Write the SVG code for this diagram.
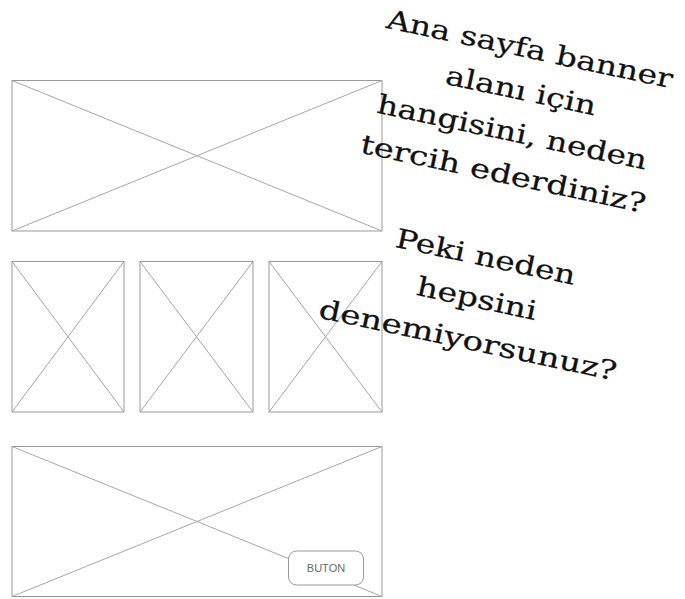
<svg xmlns="http://www.w3.org/2000/svg" width="685" height="599" viewBox="0 0 685 599">
<style>
.ph{fill:#fff;stroke:#999;stroke-width:1}
.x{stroke:#a6a6a6;stroke-width:1;fill:none}
.q{font-family:"DejaVu Serif","Liberation Serif",serif;font-size:26.5px;fill:#111;stroke:#111;stroke-width:0.25;text-anchor:middle}
.btn{fill:#fff;stroke:#999;stroke-width:1}
.bt{font-family:"Liberation Sans",Arial,sans-serif;font-size:11px;fill:#6a6a6a;text-anchor:middle}
</style>
<rect width="685" height="599" fill="#fff"/>
<g id="banner-top">
<rect class="ph" x="12" y="80.5" width="370" height="150.5"/>
<line class="x" x1="12" y1="80.5" x2="382" y2="231"/>
<line class="x" x1="382" y1="80.5" x2="12" y2="231"/>
</g>
<g id="box-1">
<rect class="ph" x="12" y="261.5" width="112" height="150.5"/>
<line class="x" x1="12" y1="261.5" x2="124" y2="412"/>
<line class="x" x1="124" y1="261.5" x2="12" y2="412"/>
</g>
<g id="box-2">
<rect class="ph" x="140" y="261.5" width="113" height="150.5"/>
<line class="x" x1="140" y1="261.5" x2="253" y2="412"/>
<line class="x" x1="253" y1="261.5" x2="140" y2="412"/>
</g>
<g id="box-3">
<rect class="ph" x="269" y="261.5" width="113" height="150.5"/>
<line class="x" x1="269" y1="261.5" x2="382" y2="412"/>
<line class="x" x1="382" y1="261.5" x2="269" y2="412"/>
</g>
<g id="banner-bottom">
<rect class="ph" x="12" y="446.5" width="370" height="150"/>
<line class="x" x1="12" y1="446.5" x2="382" y2="596.5"/>
<line class="x" x1="382" y1="446.5" x2="12" y2="596.5"/>
</g>
<g id="button">
<rect class="btn" x="288.5" y="551" width="75" height="34" rx="8"/>
<text class="bt" x="326" y="572">BUTON</text>
</g>
<g id="question" transform="translate(528,58) rotate(12)">
<text class="q" x="0" y="0" textLength="292" lengthAdjust="spacingAndGlyphs">Ana sayfa banner</text>
<text class="q" x="0" y="42.5" textLength="153" lengthAdjust="spacingAndGlyphs">alanı için</text>
<text class="q" x="0" y="85" textLength="275" lengthAdjust="spacingAndGlyphs">hangisini, neden</text>
<text class="q" x="0" y="127.5" textLength="291" lengthAdjust="spacingAndGlyphs">tercih ederdiniz?</text>
<text class="q" x="0" y="212.5" textLength="183" lengthAdjust="spacingAndGlyphs">Peki neden</text>
<text class="q" x="0" y="255" textLength="122" lengthAdjust="spacingAndGlyphs">hepsini</text>
<text class="q" x="0" y="297.5" textLength="304" lengthAdjust="spacingAndGlyphs">denemiyorsunuz?</text>
</g>
</svg>
